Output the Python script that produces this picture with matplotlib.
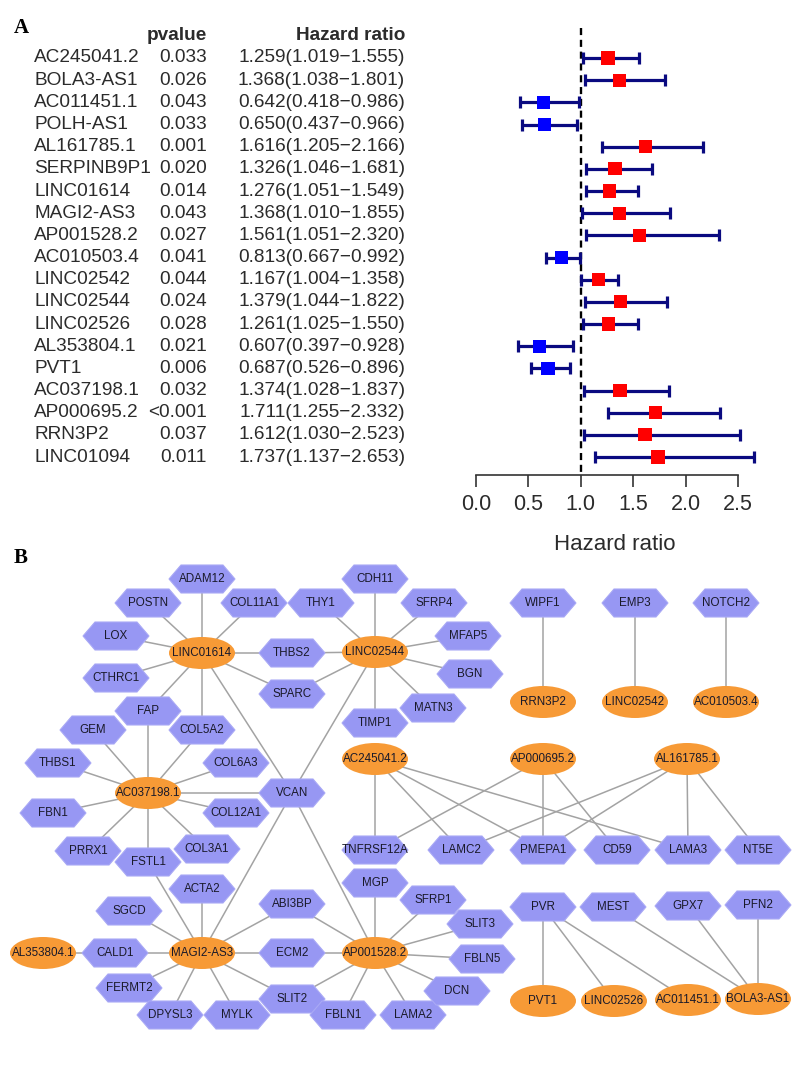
import numpy as np
import matplotlib.pyplot as plt
from matplotlib import transforms
from matplotlib.patches import Polygon, Ellipse

plt.rcParams['font.family'] = ['Liberation Sans', 'DejaVu Sans']

# ---- panel A data ----
genes = ["AC245041.2", "BOLA3-AS1", "AC011451.1", "POLH-AS1", "AL161785.1",
         "SERPINB9P1", "LINC01614", "MAGI2-AS3", "AP001528.2", "AC010503.4",
         "LINC02542", "LINC02544", "LINC02526", "AL353804.1", "PVT1",
         "AC037198.1", "AP000695.2", "RRN3P2", "LINC01094"]
pvalues = ["0.033", "0.026", "0.043", "0.033", "0.001", "0.020", "0.014", "0.043",
           "0.027", "0.041", "0.044", "0.024", "0.028", "0.021", "0.006", "0.032",
           "<0.001", "0.037", "0.011"]
hr = [1.259, 1.368, 0.642, 0.650, 1.616, 1.326, 1.276, 1.368, 1.561, 0.813,
      1.167, 1.379, 1.261, 0.607, 0.687, 1.374, 1.711, 1.612, 1.737]
hr_low = [1.019, 1.038, 0.418, 0.437, 1.205, 1.046, 1.051, 1.010, 1.051, 0.667,
          1.004, 1.044, 1.025, 0.397, 0.526, 1.028, 1.255, 1.030, 1.137]
hr_high = [1.555, 1.801, 0.986, 0.966, 2.166, 1.681, 1.549, 1.855, 2.320, 0.992,
           1.358, 1.822, 1.550, 0.928, 0.896, 1.837, 2.332, 2.523, 2.653]

# ---- panel B data ----
lncrnas = ["LINC01614", "LINC02544", "AC037198.1", "MAGI2-AS3", "AP001528.2",
           "AL353804.1", "AC245041.2", "AP000695.2", "AL161785.1", "RRN3P2",
           "LINC02542", "AC010503.4", "PVT1", "LINC02526", "AC011451.1", "BOLA3-AS1"]
edges = [
    ("LINC01614", "ADAM12"), ("LINC01614", "POSTN"), ("LINC01614", "COL11A1"),
    ("LINC01614", "LOX"), ("LINC01614", "CTHRC1"), ("LINC01614", "THBS2"),
    ("LINC01614", "SPARC"), ("LINC01614", "FAP"), ("LINC01614", "COL5A2"),
    ("LINC01614", "VCAN"),
    ("LINC02544", "THY1"), ("LINC02544", "CDH11"), ("LINC02544", "SFRP4"),
    ("LINC02544", "MFAP5"), ("LINC02544", "BGN"), ("LINC02544", "MATN3"),
    ("LINC02544", "TIMP1"), ("LINC02544", "THBS2"), ("LINC02544", "SPARC"),
    ("LINC02544", "VCAN"),
    ("AC037198.1", "FAP"), ("AC037198.1", "GEM"), ("AC037198.1", "COL5A2"),
    ("AC037198.1", "THBS1"), ("AC037198.1", "COL6A3"), ("AC037198.1", "VCAN"),
    ("AC037198.1", "FBN1"), ("AC037198.1", "COL12A1"), ("AC037198.1", "PRRX1"),
    ("AC037198.1", "FSTL1"), ("AC037198.1", "COL3A1"),
    ("MAGI2-AS3", "FSTL1"), ("MAGI2-AS3", "ACTA2"), ("MAGI2-AS3", "VCAN"),
    ("MAGI2-AS3", "ABI3BP"), ("MAGI2-AS3", "SGCD"), ("MAGI2-AS3", "CALD1"),
    ("MAGI2-AS3", "ECM2"), ("MAGI2-AS3", "FERMT2"), ("MAGI2-AS3", "DPYSL3"),
    ("MAGI2-AS3", "MYLK"), ("MAGI2-AS3", "SLIT2"),
    ("AL353804.1", "CALD1"),
    ("AP001528.2", "VCAN"), ("AP001528.2", "ABI3BP"), ("AP001528.2", "ECM2"),
    ("AP001528.2", "SLIT2"), ("AP001528.2", "MGP"), ("AP001528.2", "SFRP1"),
    ("AP001528.2", "SLIT3"), ("AP001528.2", "FBLN5"), ("AP001528.2", "DCN"),
    ("AP001528.2", "LAMA2"), ("AP001528.2", "FBLN1"),
    ("AC245041.2", "TNFRSF12A"), ("AC245041.2", "LAMC2"), ("AC245041.2", "PMEPA1"),
    ("AC245041.2", "LAMA3"),
    ("AP000695.2", "TNFRSF12A"), ("AP000695.2", "PMEPA1"), ("AP000695.2", "CD59"),
    ("AL161785.1", "LAMC2"), ("AL161785.1", "PMEPA1"), ("AL161785.1", "LAMA3"),
    ("AL161785.1", "NT5E"),
    ("RRN3P2", "WIPF1"), ("LINC02542", "EMP3"), ("AC010503.4", "NOTCH2"),
    ("PVT1", "PVR"), ("LINC02526", "PVR"), ("AC011451.1", "PVR"),
    ("BOLA3-AS1", "MEST"), ("BOLA3-AS1", "GPX7"), ("BOLA3-AS1", "PFN2"),
]

# network layout (pixel positions of the drawn network)
layout = {
    "ADAM12": (202, 579), "POSTN": (148, 603), "COL11A1": (254, 603),
    "THY1": (321, 603), "CDH11": (375, 579), "LOX": (116, 636),
    "LINC01614": (202, 653), "THBS2": (292, 653), "LINC02544": (375, 652),
    "CTHRC1": (116, 678), "SPARC": (292, 694), "FAP": (148, 711),
    "GEM": (93, 730), "COL5A2": (202, 730), "TIMP1": (375, 723),
    "THBS1": (58, 763), "COL6A3": (236, 763), "AC037198.1": (148, 793),
    "VCAN": (292, 793), "AC245041.2": (375, 759), "FBN1": (53, 813),
    "COL12A1": (236, 813), "PRRX1": (88, 851), "FSTL1": (148, 862),
    "COL3A1": (207, 849), "TNFRSF12A": (375, 850), "ACTA2": (202, 889),
    "MGP": (375, 883), "SGCD": (129, 911), "ABI3BP": (292, 904),
    "AL353804.1": (43, 953), "CALD1": (115, 953), "MAGI2-AS3": (202, 953),
    "ECM2": (292, 953), "AP001528.2": (375, 953), "FERMT2": (129, 988),
    "SLIT2": (292, 999), "DPYSL3": (170, 1015), "MYLK": (237, 1015),
    "FBLN1": (343, 1015), "LAMA2": (413, 1015),
    "SFRP4": (434, 603), "MFAP5": (468, 636), "BGN": (470, 674),
    "MATN3": (433, 708), "WIPF1": (543, 603), "EMP3": (635, 603),
    "NOTCH2": (726, 603), "RRN3P2": (543, 702), "LINC02542": (635, 702),
    "AC010503.4": (726, 702), "AP000695.2": (543, 759), "AL161785.1": (687, 759),
    "LAMC2": (461, 850), "PMEPA1": (543, 850), "CD59": (617, 850),
    "LAMA3": (688, 850), "NT5E": (758, 850), "SFRP1": (433, 900),
    "SLIT3": (480, 924), "FBLN5": (482, 959), "DCN": (457, 991),
    "PVR": (543, 907), "MEST": (613, 907), "GPX7": (688, 906), "PFN2": (758, 905),
    "PVT1": (543, 1001), "LINC02526": (614, 1001), "AC011451.1": (688, 1000),
    "BOLA3-AS1": (758, 999),
}

W, H = 800, 1066
fig = plt.figure(figsize=(W / 100, H / 100), dpi=100)
txt_color = "#2b2b2b"

# ---------------- Panel A ----------------
ax = fig.add_axes([440 / W, 1 - 475 / H, 350 / W, 455 / H])
rows = np.arange(len(genes))
hr = np.array(hr)
hr_low = np.array(hr_low)
hr_high = np.array(hr_high)
box_colors = ["#ff0000" if h >= 1 else "#0000ff" for h in hr]

ax.plot([1, 1], [-1.35, 18.81], color="black", lw=1.7, ls=(0, (3, 2)), zorder=1)
ax.errorbar(hr, rows, xerr=[hr - hr_low, hr_high - hr], fmt="none",
            ecolor="#0a0a80", elinewidth=2.3, capsize=4.3, capthick=2.3, zorder=2)
ax.scatter(hr, rows, marker="s", s=9.5 ** 2, c=box_colors, zorder=3, linewidths=0)

ax.set_xlim((440 - 476) / 104.8, (790 - 476) / 104.8)
ax.set_ylim(18.81, -1.714)
for s in ["top", "right", "left"]:
    ax.spines[s].set_visible(False)
ax.spines["bottom"].set_bounds(0, 2.5)
ax.spines["bottom"].set_color("#333333")
ax.spines["bottom"].set_linewidth(1.2)
ax.set_yticks([])
ax.set_xticks([0, 0.5, 1.0, 1.5, 2.0, 2.5])
ax.set_xticklabels(["0.0", "0.5", "1.0", "1.5", "2.0", "2.5"])
ax.tick_params(axis="x", length=8.5, width=1.2, color="#333333", labelsize=15.5,
               labelcolor=txt_color, pad=5)
ax.set_xlabel("Hazard ratio", fontsize=16, color=txt_color, labelpad=14)

tr = transforms.blended_transform_factory(fig.transFigure, ax.transData)
fig.text(207 / W, -1, "pvalue", transform=tr, ha="right", va="center",
         fontsize=13.7, fontweight="bold", color=txt_color)
fig.text(405 / W, -1, "Hazard ratio", transform=tr, ha="right", va="center",
         fontsize=13.7, fontweight="bold", color=txt_color)
for i, g in enumerate(genes):
    fig.text(34 / W, i, g, transform=tr, ha="left", va="center",
             fontsize=13.7, color=txt_color)
    fig.text(207 / W, i, pvalues[i], transform=tr, ha="right", va="center",
             fontsize=13.7, color=txt_color)
    label = "%.3f(%.3f\u2212%.3f)" % (hr[i], hr_low[i], hr_high[i])
    fig.text(405 / W, i, label, transform=tr, ha="right", va="center",
             fontsize=13.7, color=txt_color)

fig.text(14 / W, 1 - 28 / H, "A", fontsize=15, fontweight="bold",
         family="Liberation Serif", va="center", ha="left")
fig.text(14 / W, 1 - 558 / H, "B", fontsize=15, fontweight="bold",
         family="Liberation Serif", va="center", ha="left")

# ---------------- Panel B ----------------
bx = fig.add_axes([0, 0, 1, 1 - 560 / H])
bx.set_xlim(0, W)
bx.set_ylim(H, 560)
bx.axis("off")

for a, b in edges:
    (x1, y1), (x2, y2) = layout[a], layout[b]
    bx.plot([x1, x2], [y1, y2], color="#a3a3a3", lw=1.1, zorder=1)

hex_w, hex_h, hex_in = 33, 14, 12
for name, (x, y) in layout.items():
    if name in lncrnas:
        bx.add_patch(Ellipse((x, y), 66, 32, facecolor="#f79a36",
                             edgecolor="none", zorder=2))
    else:
        pts = [(x - hex_w, y), (x - hex_w + hex_in, y - hex_h),
               (x + hex_w - hex_in, y - hex_h), (x + hex_w, y),
               (x + hex_w - hex_in, y + hex_h), (x - hex_w + hex_in, y + hex_h)]
        bx.add_patch(Polygon(pts, closed=True, facecolor="#9797f3",
                             edgecolor="#a9a9f5", lw=0.8, zorder=2))
    bx.text(x, y, name, ha="center", va="center", fontsize=8.4,
            color="#1a1a2a", zorder=3)

fig.savefig("out.png", dpi=100)
